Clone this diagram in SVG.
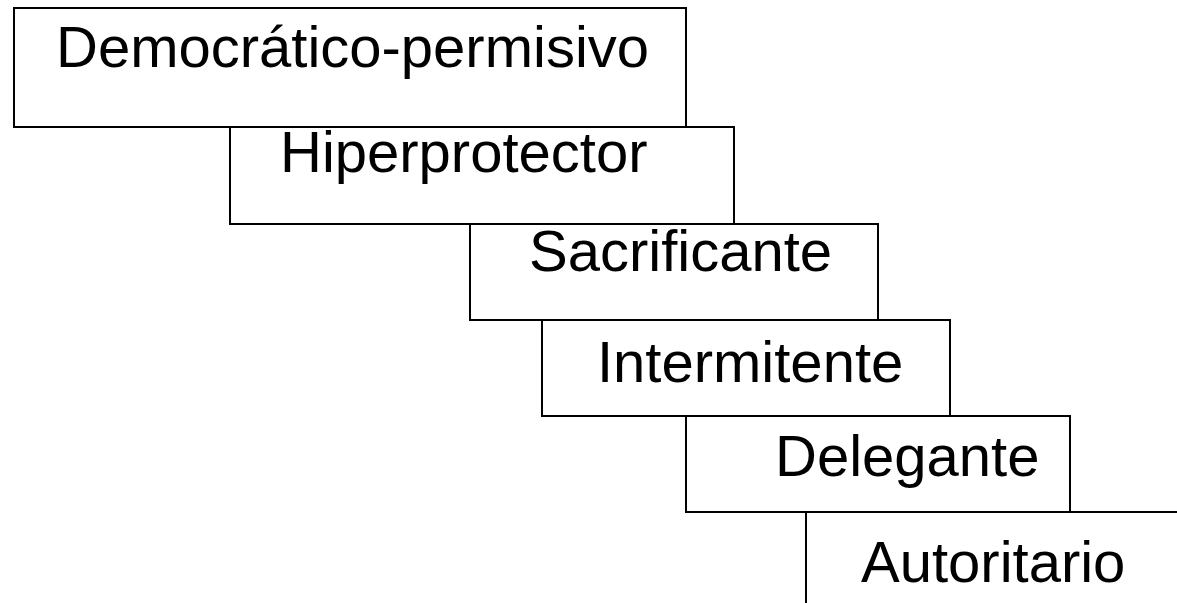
<svg xmlns="http://www.w3.org/2000/svg" width="1177" height="603" viewBox="0 0 1177 603">
<style>
.box{fill:#ffffff;stroke:#000000;stroke-width:2}
.lbl{font-family:"Liberation Sans",Arial,sans-serif;font-size:58px;fill:#000000}
</style>
<rect width="1177" height="603" fill="#ffffff"/>
<g id="node-democratico">
<rect class="box" x="14" y="8" width="672" height="119"/>
<text class="lbl" x="56" y="67">Democrático-permisivo</text>
</g>
<g id="node-hiperprotector">
<rect class="box" x="230" y="127" width="504" height="97"/>
<text class="lbl" x="280" y="172">Hiperprotector</text>
</g>
<g id="node-sacrificante">
<rect class="box" x="470" y="224" width="408" height="96"/>
<text class="lbl" x="529" y="271">Sacrificante</text>
</g>
<g id="node-intermitente">
<rect class="box" x="542" y="320" width="408" height="96"/>
<text class="lbl" x="597" y="382">Intermitente</text>
</g>
<g id="node-delegante">
<rect class="box" x="686" y="416" width="384" height="96"/>
<text class="lbl" x="775" y="476">Delegante</text>
</g>
<g id="node-autoritario">
<path class="box" d="M806 604 V512 H1178" fill="none"/>
<text class="lbl" x="861" y="582">Autoritario</text>
</g>
<g id="connectors"></g>
</svg>
